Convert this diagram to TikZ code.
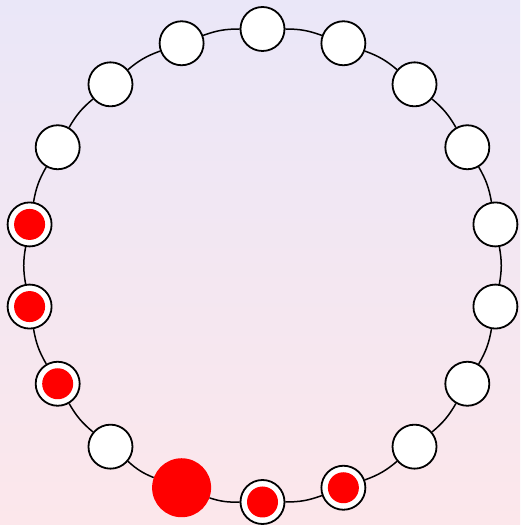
\documentclass[tikz,border=0pt]{standalone}
\usetikzlibrary{calc}
\definecolor{bgtop}{RGB}{234,231,248}
\definecolor{bgbot}{RGB}{252,231,235}
\tikzset{
  ringnode/.style={circle,draw=black,line width=1.8pt,fill=white,minimum size=44pt,inner sep=0pt},
  rednode/.style={ringnode,path picture={\fill[red] (path picture bounding box.center) circle (15.5pt);}},
  bignode/.style={circle,fill=red,minimum size=59pt,inner sep=0pt},
  link/.style={line width=1.5pt,black}
}
\begin{document}
\begin{tikzpicture}[x=1pt,y=1pt]
\shade[top color=bgtop,bottom color=bgbot] (0,0) rectangle (520,525);
\useasboundingbox (0,0) rectangle (520,525);
\coordinate (c) at (262.5,259.5);
\foreach \i in {0,...,17}{
  \ifnum\i=10
    \node[bignode] (n\i) at ($(c)+(90-20*\i:236.5pt)$) {};
  \else\ifnum\i=8
    \node[rednode] (n\i) at ($(c)+(90-20*\i:236.5pt)$) {};
  \else\ifnum\i=9
    \node[rednode] (n\i) at ($(c)+(90-20*\i:236.5pt)$) {};
  \else\ifnum\i>11
    \ifnum\i<15
      \node[rednode] (n\i) at ($(c)+(90-20*\i:236.5pt)$) {};
    \else
      \node[ringnode] (n\i) at ($(c)+(90-20*\i:236.5pt)$) {};
    \fi
  \else
    \node[ringnode] (n\i) at ($(c)+(90-20*\i:236.5pt)$) {};
  \fi\fi\fi\fi
}
\foreach \i [evaluate=\i as \j using {int(mod(\i+1,18))}] in {0,...,17}{
  \draw[link] (n\i) to[bend left=10] (n\j);
}
\end{tikzpicture}
\end{document}
